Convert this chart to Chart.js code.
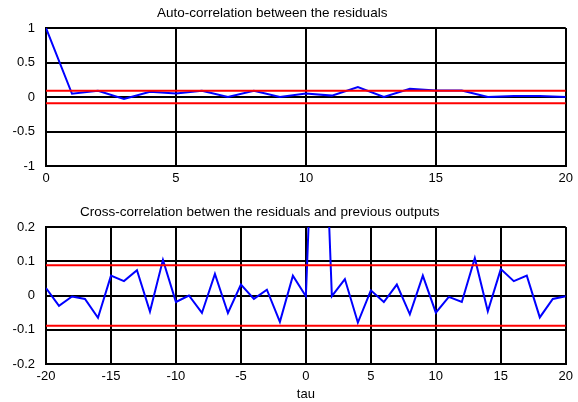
<!DOCTYPE html>
<html>
<head>
<meta charset="utf-8">
<script src="https://cdn.jsdelivr.net/npm/chart.js@4.4.0/dist/chart.umd.min.js"></script>
<style>
body{margin:0;background:#fff;width:578px;height:402px;position:relative;overflow:hidden;font-family:"Liberation Sans",Arial,sans-serif}
canvas{position:absolute;left:0}
.t{position:absolute;font-size:13.5px;line-height:16px;white-space:nowrap;color:#000}
</style>
</head>
<body>
<canvas id="c1" width="578" height="200" style="top:0"></canvas>
<canvas id="c2" width="578" height="202" style="top:200px"></canvas>
<div class="t" style="left:157px;top:4.5px">Auto-correlation between the residuals</div>
<div class="t" style="left:80px;top:203.5px">Cross-correlation betwen the residuals and previous outputs</div>
<script>
// auto-correlation of residuals, lags 0..20
var autoLags = [0,1,2,3,4,5,6,7,8,9,10,11,12,13,14,15,16,17,18,19,20];
var autoValues = [1,0.047,0.09,-0.03,0.075,0.05,0.09,0,0.09,0,0.05,0.02,0.145,0,0.12,0.095,0.095,0,0.015,0.015,0];
var autoBound = 0.089;

// cross-correlation residuals / previous outputs, lags -20..20
var crossLags = [-20,-19,-18,-17,-16,-15,-14,-13,-12,-11,-10,-9,-8,-7,-6,-5,-4,-3,-2,-1,0,1,2,3,4,5,6,7,8,9,10,11,12,13,14,15,16,17,18,19,20];
var crossValues = [0.022,-0.03,-0.003,-0.01,-0.065,0.058,0.042,0.074,-0.047,0.104,
	-0.019,0,-0.051,0.063,-0.051,0.032,-0.01,0.017,-0.077,0.058,
	-0.002,1.0,-0.002,0.048,-0.079,0.015,-0.019,0.032,-0.055,0.058,
	-0.05,-0.004,-0.019,0.109,-0.046,0.077,0.042,0.058,-0.064,-0.01,-0.002];
var crossBound = 0.088;

var tickFont = {family: '"Liberation Sans", Arial, sans-serif', size: 13};

function points(xs, ys){
	var out = [];
	for(var i = 0; i < xs.length; i++){
		out.push({x: xs[i], y: ys[i]});
	}
	return out;
}

function bandSets(xs, bound){
	var a = xs[0], b = xs[xs.length - 1];
	return [
		{data: [{x: a, y: bound}, {x: b, y: bound}], borderColor: 'rgb(255,0,0)', borderWidth: 2, pointRadius: 0},
		{data: [{x: a, y: -bound}, {x: b, y: -bound}], borderColor: 'rgb(255,0,0)', borderWidth: 2, pointRadius: 0}
	];
}

function label(v){
	return String(Math.round(v * 100) / 100);
}

function makeChart(id, xs, ys, bound, xstep, ymin, ymax, ystep, padTop, xh, tau){
	var sets = bandSets(xs, bound);
	sets.push({data: points(xs, ys), borderColor: 'rgb(0,0,255)', borderWidth: 2, pointRadius: 0, tension: 0});
	return new Chart(document.getElementById(id), {
		type: 'line',
		data: {datasets: sets},
		options: {
			responsive: false,
			animation: false,
			layout: {padding: {top: padTop, right: 11, left: 0, bottom: 0}},
			plugins: {legend: {display: false}, tooltip: {enabled: false}},
			scales: {
				x: {
					type: 'linear', min: xs[0], max: xs[xs.length - 1],
					ticks: {stepSize: xstep, color: '#000', font: tickFont, padding: 5, maxRotation: 0, callback: label},
					grid: {color: '#000', lineWidth: 2, drawTicks: false},
					border: {color: '#000', width: 2},
					title: {display: tau, text: 'tau', color: '#000', font: tickFont, padding: 0},
					afterFit: function(s){ s.height = xh; }
				},
				y: {
					min: ymin, max: ymax,
					ticks: {stepSize: ystep, color: '#000', font: tickFont, padding: 11, callback: label},
					grid: {color: '#000', lineWidth: 2, drawTicks: false},
					border: {color: '#000', width: 2},
					afterFit: function(s){ s.width = 46; }
				}
			}
		}
	});
}

makeChart('c1', autoLags, autoValues, autoBound, 5, -1, 1, 0.5, 28, 34, false);
makeChart('c2', crossLags, crossValues, crossBound, 5, -0.2, 0.2, 0.1, 27, 38, true);
</script>
</body>
</html>
